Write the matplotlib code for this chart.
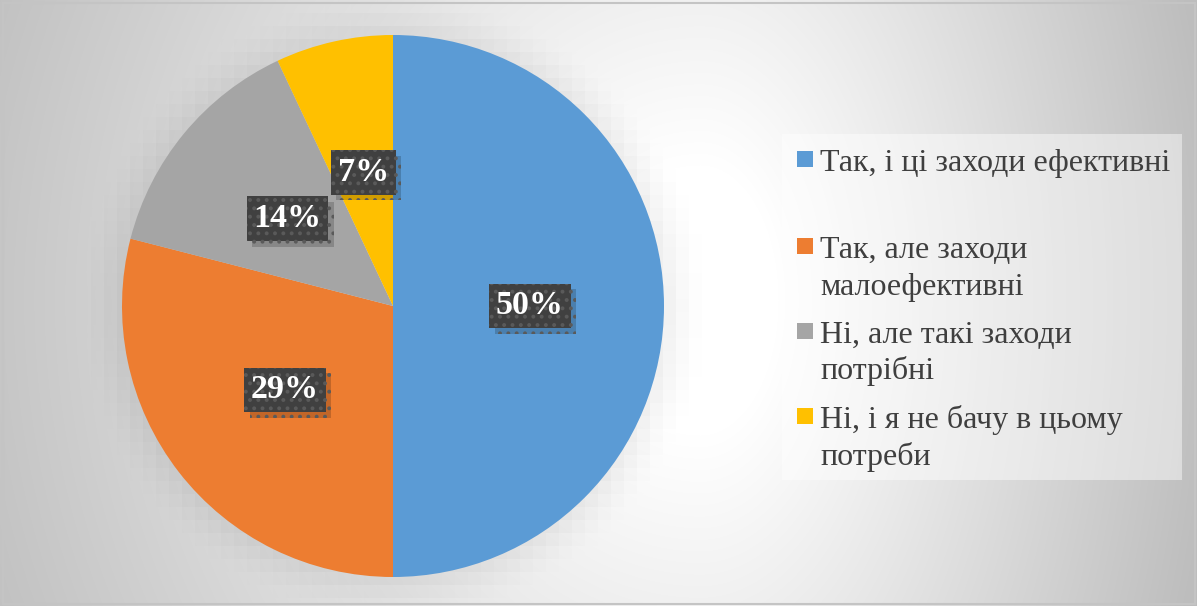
import numpy as np
import matplotlib
matplotlib.use("Agg")
import matplotlib.pyplot as plt
from matplotlib.patches import Rectangle
from matplotlib import patheffects as pe

# Survey answers and their shares (%)
categories = [
    "Так, і ці заходи ефективні",
    "Так, але заходи\nмалоефективні",
    "Ні, але такі заходи\nпотрібні",
    "Ні, і я не бачу в цьому\nпотреби",
]
shares = [50, 29, 14, 7]
colors = ["#5B9BD5", "#ED7D31", "#A5A5A5", "#FFC000"]

W, H, DPI = 1197, 606, 100
fig = plt.figure(figsize=(W / DPI, H / DPI), dpi=DPI)

# ---- background: soft radial gradient plus a blurred shadow around the pie
yy, xx = np.mgrid[0:H, 0:W].astype(float)
cx, cy = 700.0, 300.0
tx = np.where(xx < cx, (xx - cx) / 800.0, (xx - cx) / 520.0)
ty = (yy - cy) / 900.0
t = np.sqrt(tx ** 2 + ty ** 2)
val = 255 - 66 * np.clip((t - 0.15) / 0.85, 0, 1)

pie_cx, pie_cy, pie_r = 393.0, 306.0, 271.0
blk = 13
by, bx = np.mgrid[0:H:blk, 0:W:blk].astype(float)
d = np.hypot(bx + blk / 2 - pie_cx, by + blk / 2 - pie_cy) - pie_r
sh = 0.06 * np.clip(1 - d / 40.0, 0, 1) ** 1.5
sh = np.repeat(np.repeat(sh, blk, axis=0), blk, axis=1)[:H, :W]
val = val * (1 - sh)
img = np.dstack([val, val, val]) / 255.0

bg = fig.add_axes([0, 0, 1, 1])
bg.imshow(img, extent=(0, W, H, 0), interpolation="bilinear", aspect="auto")
bg.set_xlim(0, W)
bg.set_ylim(H, 0)
bg.axis("off")

# outer frame
bg.add_patch(Rectangle((2.5, 3), W - 5, H - 5.5, fill=False,
                       edgecolor="#c4c4c4", linewidth=1.5))

# legend panel
bg.add_patch(Rectangle((782, 134), 400, 346, facecolor="white",
                       alpha=0.45, edgecolor="none"))

# ---- pie
ax = fig.add_axes([(pie_cx - pie_r) / W, (H - pie_cy - pie_r) / H,
                   2 * pie_r / W, 2 * pie_r / H])
ax.set_facecolor("none")
wedges, texts, autotexts = ax.pie(
    shares, colors=colors, startangle=90, counterclock=False,
    autopct="%.0f%%", pctdistance=0.505, radius=1.0,
    wedgeprops=dict(linewidth=0),
    textprops=dict(family="Liberation Serif", fontsize=24.5,
                   fontweight="bold", color="white"),
)
ax.set_xlim(-1, 1)
ax.set_ylim(-1, 1)
ax.set_aspect("equal")
ax.axis("off")

plt.rcParams["hatch.linewidth"] = 1.6
for at in autotexts:
    at.set_bbox(dict(boxstyle="square,pad=0.2", facecolor="#404040",
                     edgecolor="#5a5a5a", hatch="..", linewidth=0))
    at.get_bbox_patch().set_path_effects([
        pe.SimplePatchShadow(offset=(4, -4), shadow_rgbFace="black", alpha=0.18),
        pe.Normal(),
    ])

# ---- legend
entry_baselines = [171, 258, 343, 428]
line_gap = 36.5
for lab, col, base in zip(categories, colors, entry_baselines):
    bg.add_patch(Rectangle((797, base - 20), 16, 16, facecolor=col,
                           edgecolor="none"))
    for k, line in enumerate(lab.split("\n")):
        bg.text(820, base + k * line_gap, line, family="Liberation Serif",
                fontsize=23, color="#3f3f3f", va="baseline", ha="left")

fig.savefig("out.png", dpi=DPI)
